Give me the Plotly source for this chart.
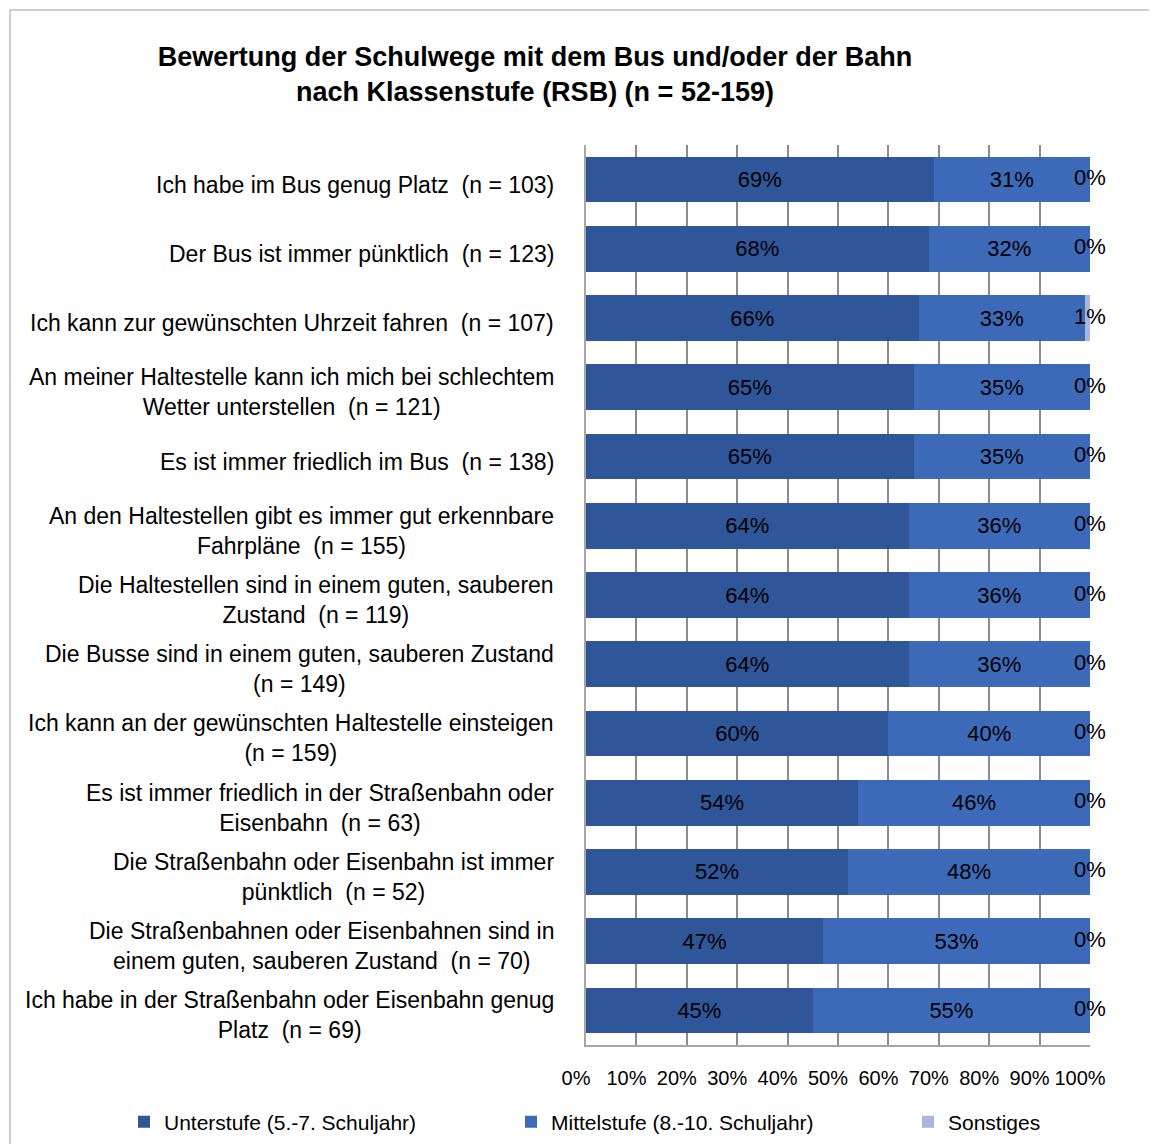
import plotly.graph_objects as go

labels = [
    "Ich habe im Bus genug Platz\u00a0 (n = 103)",
    "Der Bus ist immer pünktlich\u00a0 (n = 123)",
    "Ich kann zur gewünschten Uhrzeit fahren\u00a0 (n = 107)",
    "An meiner Haltestelle kann ich mich bei schlechtem<br>Wetter unterstellen\u00a0 (n = 121)",
    "Es ist immer friedlich im Bus\u00a0 (n = 138)",
    "An den Haltestellen gibt es immer gut erkennbare<br>Fahrpläne\u00a0 (n = 155)",
    "Die Haltestellen sind in einem guten, sauberen<br>Zustand\u00a0 (n = 119)",
    "Die Busse sind in einem guten, sauberen Zustand<br>(n = 149)",
    "Ich kann an der gewünschten Haltestelle einsteigen<br>(n = 159)",
    "Es ist immer friedlich in der Straßenbahn oder<br>Eisenbahn\u00a0 (n = 63)",
    "Die Straßenbahn oder Eisenbahn ist immer<br>pünktlich\u00a0 (n = 52)",
    "Die Straßenbahnen oder Eisenbahnen sind in<br>einem guten, sauberen Zustand\u00a0 (n = 70)",
    "Ich habe in der Straßenbahn oder Eisenbahn genug<br>Platz\u00a0 (n = 69)",
]
unterstufe = [69, 68, 66, 65, 65, 64, 64, 64, 60, 54, 52, 47, 45]
mittelstufe = [31, 32, 33, 35, 35, 36, 36, 36, 40, 46, 48, 53, 55]
sonstiges = [0, 0, 1, 0, 0, 0, 0, 0, 0, 0, 0, 0, 0]
series_names = ["Unterstufe (5.-7. Schuljahr)", "Mittelstufe (8.-10. Schuljahr)", "Sonstiges"]
x_ticks = list(range(0, 101, 10))

FONT = "Liberation Sans, Arial, sans-serif"
OFF = 8  # page body margin
W, H = 1157 - OFF, 1144 - OFF
L, R, T, B = 586 - OFF, 1090 - OFF, 145 - OFF, 1045 - OFF


def px_x(px):
    return (px - OFF - L) / (R - L)


def px_y(py):
    return (B - (py - OFF)) / (B - T)


fig = go.Figure()
fig.add_trace(go.Bar(
    y=labels, x=unterstufe, orientation="h", name=series_names[0],
    marker=dict(color="#30569A", line=dict(width=0)),
    text=[f"{v}%" for v in unterstufe], textposition="inside",
    insidetextanchor="middle", textfont=dict(color="black", size=22, family=FONT),
    legend="legend",
))
fig.add_trace(go.Bar(
    y=labels, x=mittelstufe, orientation="h", name=series_names[1],
    marker=dict(color="#3D6AB8", line=dict(width=0)),
    text=[f"{v}%" for v in mittelstufe], textposition="inside",
    insidetextanchor="middle", textfont=dict(color="black", size=22, family=FONT),
    legend="legend",
))
fig.add_trace(go.Bar(
    y=labels, x=sonstiges, orientation="h", name=series_names[2],
    marker=dict(color="#AAB7DC", line=dict(width=0)),
    textposition="none", legend="legend2",
))
totals = [u + m + s for u, m, s in zip(unterstufe, mittelstufe, sonstiges)]
fig.add_trace(go.Scatter(
    y=labels, x=totals, mode="text", text=[f"{v}%" for v in sonstiges],
    textposition="middle center", textfont=dict(color="black", size=22, family=FONT),
    showlegend=False, cliponaxis=False, hoverinfo="skip",
))

annotations = []
for lab in labels:
    annotations.append(dict(
        text=lab, xref="paper", x=px_x(556), xanchor="right",
        yref="y", y=lab, yanchor="middle", yshift=-5, align="center", showarrow=False,
        font=dict(size=23, family=FONT, color="black"),
    ))

shapes = [
    dict(type="line", xref="paper", yref="paper", x0=px_x(10), x1=px_x(1170),
         y0=px_y(10), y1=px_y(10), line=dict(color="#BFBFBF", width=1.5)),
    dict(type="line", xref="paper", yref="paper", x0=px_x(10), x1=px_x(10),
         y0=px_y(10), y1=px_y(1160), line=dict(color="#BFBFBF", width=1.5)),
]

fig.update_layout(
    width=W, height=H,
    margin=dict(l=L, r=W - R, t=T, b=H - B, autoexpand=False),
    barmode="stack", bargap=0.34,
    paper_bgcolor="white", plot_bgcolor="white",
    font=dict(family=FONT, size=20, color="black"),
    title=dict(
        text="<b>Bewertung der Schulwege mit dem Bus und/oder der Bahn<br>nach Klassenstufe (RSB) (n = 52-159)</b>",
        x=(535 - OFF) / W, xanchor="center", y=1 - 58 / H, yanchor="top", yref="container",
        font=dict(size=27, family=FONT, color="black"),
    ),
    xaxis=dict(
        range=[0, 100], tickvals=x_ticks, ticktext=[f"{v}%" for v in x_ticks],
        showgrid=True, gridcolor="#8C8C8C", gridwidth=1.5,
        zeroline=False, showline=True, linecolor="#A6A6A6", linewidth=1.5,
        ticks="", ticklabelstandoff=14, ticklabelshift=-10,
        tickfont=dict(size=20, family=FONT),
    ),
    yaxis=dict(
        range=[len(labels) - 0.5, -0.5], showticklabels=False, showgrid=False,
        zeroline=False, showline=True, linecolor="#A6A6A6", linewidth=1.5, ticks="",
    ),
    legend=dict(
        orientation="h", x=px_x(124), xanchor="left", y=px_y(1122), yanchor="middle",
        entrywidth=342, entrywidthmode="pixels", font=dict(size=21, family=FONT),
        traceorder="normal", itemwidth=30, bgcolor="rgba(0,0,0,0)",
    ),
    legend2=dict(
        orientation="h", x=px_x(908), xanchor="left", y=px_y(1122), yanchor="middle",
        font=dict(size=21, family=FONT), itemwidth=30, bgcolor="rgba(0,0,0,0)",
    ),
    annotations=annotations,
    shapes=shapes,
)

fig.write_html("out.html")
